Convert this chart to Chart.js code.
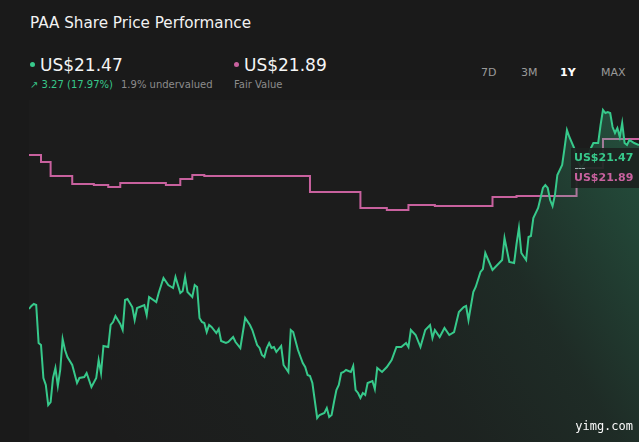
<!DOCTYPE html>
<html>
<head>
<meta charset="utf-8">
<script src="https://cdn.jsdelivr.net/npm/chart.js@4"></script>
<style>
  body { margin: 0; width: 639px; height: 442px; overflow: hidden; background: #1a1a1a; font-family: "DejaVu Sans", sans-serif; position: relative; }
  .abs { position: absolute; white-space: nowrap; line-height: 1; }
  #title { left: 30px; top: 16px; font-size: 15.2px; color: #f2f2f2; }
  .dot { position: absolute; width: 5px; height: 5px; border-radius: 50%; }
  .price { font-size: 17px; color: #f5f5f5; top: 57px; }
  .sub { font-size: 10px; top: 80px; color: #8c8c8c; }
  .range { font-size: 11px; top: 67px; color: #9a9a9a; }
  #chart { position: absolute; left: 0; top: 100px; }
  #tag { position: absolute; left: 571px; top: 148px; width: 70px; height: 40px; background: rgba(28, 34, 31, 0.92); }
  .tagtxt { font-size: 11px; font-weight: bold; }
  #sep { position: absolute; left: 575px; top: 168px; width: 10px; border-top: 1px dashed #9aa; }
  #wm { right: 6px; bottom: 10px; font-family: "DejaVu Sans Mono", monospace; font-size: 12px; color: #fafafa; }
</style>
</head>
<body>
<div id="title" class="abs">PAA Share Price Performance</div>

<div class="dot" style="left:30px; top:62px; background:#37c98b;"></div>
<div class="abs price" style="left:40px;">US$21.47</div>
<div class="abs sub" style="left:30px; color:#37c98b;">↗ 3.27 (17.97%)</div>
<div class="abs sub" style="left:121px;">1.9% undervalued</div>

<div class="dot" style="left:234px; top:62px; background:#c8619e;"></div>
<div class="abs price" style="left:244px;">US$21.89</div>
<div class="abs sub" style="left:234px;">Fair Value</div>

<div class="abs range" style="left:481px;">7D</div>
<div class="abs range" style="left:521px;">3M</div>
<div class="abs range" style="left:560px; color:#ffffff; font-weight:bold;">1Y</div>
<div class="abs range" style="left:601px;">MAX</div>

<canvas id="chart" width="639" height="342"></canvas>

<div id="tag"></div>
<div class="abs tagtxt" style="left:574px; top:152px; color:#37c98b;">US$21.47</div>
<div id="sep"></div>
<div class="abs tagtxt" style="left:574px; top:172px; color:#c8619e;">US$21.89</div>

<div id="wm" class="abs">yimg.com</div>

<script>
// trading day index (0 = one year ago) and close price, US$
const priceDays = [0, 1, 2, 3, 4, 5, 6, 7, 8, 9, 10, 11, 12, 13, 14, 15, 16, 18, 20, 21,
  23, 24, 25, 26, 28, 29, 30, 31, 33, 34, 35, 36, 38, 39, 40, 41, 43, 44, 45, 48,
  49, 50, 53, 54, 56, 58, 60, 61, 63, 64, 65, 66, 68, 69, 70, 71, 72, 73, 74, 75,
  76, 78, 79, 80, 82, 83, 85, 86, 88, 90, 92, 93, 95, 96, 97, 98, 99, 100, 101, 102,
  103, 105, 106, 108, 109, 110, 112, 114, 115, 116, 117, 118, 120, 121, 123, 124, 125, 126, 127, 128,
  129, 130, 131, 132, 134, 135, 136, 137, 138, 139, 140, 141, 143, 144, 145, 147, 149, 151, 153, 155,
  157, 158, 159, 161, 163, 165, 167, 168, 169, 171, 173, 175, 177, 179, 181, 182, 183, 185, 186, 188,
  189, 190, 193, 197, 198, 200, 202, 203, 204, 205, 207, 208, 209, 210, 212, 213, 214, 215, 216, 217,
  218, 219, 220, 222, 223, 224, 225, 227, 228, 230, 232, 234, 235, 237, 238, 239, 240, 241, 242, 243,
  244, 245, 246, 247, 248, 249, 250, 252, 254];
const priceValues = [18.18, 18.24, 18.28, 18.26, 17.50, 17.46, 16.80, 16.66, 16.26, 16.32, 16.80, 17.00, 16.64, 16.96, 17.58, 17.36, 17.22, 17.06, 16.70, 16.80,
  16.82, 16.90, 16.76, 16.62, 16.80, 17.16, 16.90, 17.44, 17.42, 17.86, 17.92, 18.04, 17.88, 17.76, 18.36, 18.38, 18.22, 17.96, 18.20, 18.26,
  18.06, 18.42, 18.32, 18.50, 18.80, 18.66, 18.60, 18.82, 18.50, 18.54, 18.82, 18.52, 18.42, 18.66, 18.62, 18.00, 17.92, 17.90, 17.72, 17.86,
  17.82, 17.70, 17.78, 17.54, 17.50, 17.52, 17.62, 17.52, 17.40, 18.00, 17.86, 17.76, 17.46, 17.40, 17.26, 17.22, 17.40, 17.50, 17.40, 17.42,
  17.32, 17.44, 17.06, 16.92, 17.76, 17.72, 17.36, 17.10, 17.02, 16.86, 16.84, 16.70, 16.00, 16.06, 16.10, 16.20, 16.02, 16.06, 16.32, 16.56,
  16.66, 16.90, 16.92, 16.96, 16.92, 17.04, 16.56, 16.50, 16.40, 16.50, 16.46, 16.70, 16.74, 16.58, 17.00, 16.92, 17.02, 17.16, 17.42, 17.42,
  17.50, 17.42, 17.76, 17.66, 17.42, 17.76, 17.86, 17.60, 17.76, 17.62, 17.80, 17.66, 17.72, 18.12, 18.22, 18.24, 17.96, 18.52, 18.62, 18.92,
  18.98, 19.30, 18.96, 19.16, 19.60, 19.12, 19.10, 19.48, 19.80, 19.30, 19.16, 19.62, 19.64, 20.00, 20.20, 20.40, 20.60, 20.66, 20.60, 20.36,
  20.24, 20.46, 20.86, 21.06, 21.40, 21.76, 21.62, 21.40, 21.20, 21.00, 21.16, 21.40, 21.50, 21.50, 21.86, 22.16, 22.10, 22.12, 22.10, 21.82,
  21.70, 21.80, 21.62, 21.90, 21.50, 21.46, 21.56, 21.50, 21.46];

// fair value estimate, changes on the given day
const fairDays = [0, 5, 9, 18, 27, 33, 38, 57, 63, 68, 73, 117, 138, 149, 158, 169, 193, 203, 228, 239, 254];
const fairValues = [21.26, 21.12, 20.84, 20.68, 20.66, 20.62, 20.70, 20.66, 20.78, 20.86, 20.84, 20.52, 20.20, 20.16, 20.26, 20.24, 20.42, 20.44, 21.00, 21.58, 21.58];

const green = '#37c98b';
const pink = '#c8619e';

function toPoints(days, values) {
  return days.map((d, i) => ({ x: d, y: values[i] }));
}

const areaBg = {
  id: 'areaBg',
  beforeDraw(chart) {
    const { ctx, chartArea } = chart;
    ctx.save();
    ctx.fillStyle = '#1c1c1c';
    ctx.fillRect(chartArea.left, 0, chartArea.right - chartArea.left, chartArea.bottom);
    ctx.restore();
  }
};

function greenFill(context) {
  const area = context.chart.chartArea;
  if (!area) return 'transparent';
  const g = context.chart.ctx.createLinearGradient(100, area.bottom, area.right, area.top + 10);
  g.addColorStop(0, 'rgba(55, 201, 139, 0)');
  g.addColorStop(0.5, 'rgba(55, 201, 139, 0.04)');
  g.addColorStop(0.7, 'rgba(55, 201, 139, 0.09)');
  g.addColorStop(0.9, 'rgba(55, 201, 139, 0.24)');
  g.addColorStop(1, 'rgba(55, 201, 139, 0.3)');
  return g;
}

new Chart(document.getElementById('chart'), {
  type: 'line',
  data: {
    datasets: [
      {
        data: toPoints(priceDays, priceValues),
        borderColor: green,
        borderWidth: 2,
        backgroundColor: greenFill,
        fill: 'start',
        pointRadius: 0,
        tension: 0
      },
      {
        data: toPoints(fairDays, fairValues),
        borderColor: pink,
        borderWidth: 2,
        fill: false,
        stepped: true,
        pointRadius: 0
      }
    ]
  },
  options: {
    responsive: false,
    animation: false,
    devicePixelRatio: 1,
    layout: { padding: { left: 29, right: 0, top: 0, bottom: 0 } },
    scales: {
      x: { type: 'linear', min: 0, max: 254, display: false },
      y: { min: 15.52, max: 22.36, display: false }
    },
    plugins: {
      legend: { display: false },
      tooltip: { enabled: false }
    }
  },
  plugins: [areaBg]
});
</script>
</body>
</html>
